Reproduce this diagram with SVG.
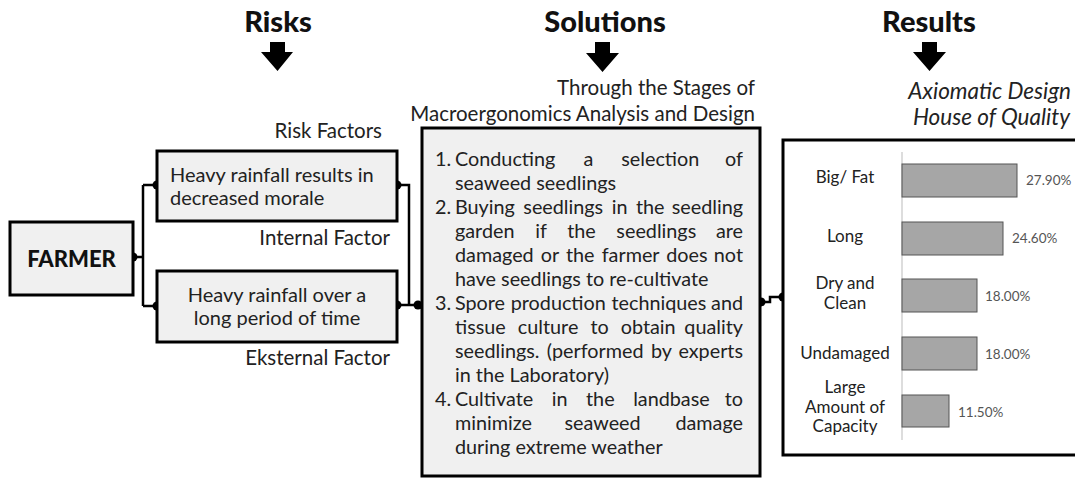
<svg xmlns="http://www.w3.org/2000/svg" width="1075" height="478" viewBox="0 0 1075 478">
  <defs>
    <style>
      .box { fill: #f0f0f0; stroke: #000; stroke-width: 3; }
      .panel { fill: #fff; stroke: #000; stroke-width: 3; }
      .wire { fill: none; stroke: #000; stroke-width: 2.5; }
      .dot { fill: #000; }
      .head { font-family: Lato, "Liberation Sans", sans-serif; font-weight: 900; font-size: 29px; fill: #111; text-anchor: middle; }
      .txt { font-family: Lato, "Liberation Sans", sans-serif; font-size: 20px; fill: #222; }
      .body { font-family: Lato, "Liberation Sans", sans-serif; font-size: 19.8px; fill: #222; }
      .end { text-anchor: end; }
      .cap { font-family: Lato, "Liberation Sans", sans-serif; font-size: 20.5px; fill: #222; text-anchor: end; }
      .ital { font-family: Lato, "Liberation Sans", sans-serif; font-size: 22.5px; font-style: italic; fill: #222; text-anchor: end; }
      .cat { font-family: Lato, "Liberation Sans", sans-serif; font-size: 17px; fill: #222; text-anchor: middle; }
      .pct { font-family: Lato, "Liberation Sans", sans-serif; font-size: 13.5px; fill: #555; }
      .bar { fill: #a6a6a6; stroke: #555; stroke-width: 1; }
      .arrow { fill: #000; }
    </style>
  </defs>

  <!-- column headings with down arrows -->
  <g id="heading-risks">
    <text class="head" x="278" y="32">Risks</text>
    <path class="arrow" d="M270,42 H285 V52 H293 L277.5,71 L261,52 H270 Z"/>
  </g>
  <g id="heading-solutions">
    <text class="head" x="605" y="32">Solutions</text>
    <path class="arrow" d="M595,42 H610 V53 H619 L602.5,72 L586,53 H595 Z"/>
  </g>
  <g id="heading-results">
    <text class="head" x="929" y="32">Results</text>
    <path class="arrow" d="M922,42 H937 V52 H946 L929.5,71 L913,52 H922 Z"/>
  </g>

  <!-- connectors -->
  <g id="connectors">
    <path class="wire" d="M133,257 H143 M143,185 V306 M143,185 H157 M143,306 H157"/>
    <path class="wire" d="M397,185 H409 V305"/>
    <path class="wire" d="M397,305 H420"/>
    <path class="wire" d="M760,302 H770 V297 H783"/>
    <circle class="dot" cx="133" cy="257" r="4.5"/>
    <circle class="dot" cx="157" cy="185" r="4.5"/>
    <circle class="dot" cx="157" cy="306" r="4.5"/>
    <circle class="dot" cx="397" cy="185" r="4.5"/>
    <circle class="dot" cx="397" cy="305" r="4.5"/>
    <circle class="dot" cx="418" cy="305" r="4.5"/>
    <circle class="dot" cx="761" cy="302" r="4.5"/>
    <circle class="dot" cx="783" cy="297" r="4.5"/>
  </g>

  <!-- farmer -->
  <g id="farmer">
    <rect class="box" x="10" y="222" width="123" height="73"/>
    <text x="71.5" y="267" text-anchor="middle" style="font-family: Lato, 'Liberation Sans', sans-serif; font-weight: 900; font-size: 22px; fill: #111;">FARMER</text>
  </g>

  <!-- risk factors -->
  <text class="cap" x="382" y="138">Risk Factors</text>
  <g id="internal-factor">
    <rect class="box" x="157" y="151" width="240" height="70"/>
    <text class="txt" x="170" y="182">Heavy rainfall results in</text>
    <text class="txt" x="170" y="205">decreased morale</text>
    <text class="cap" x="390" y="245">Internal Factor</text>
  </g>
  <g id="external-factor">
    <rect class="box" x="157" y="271" width="240" height="71"/>
    <text class="txt" x="277" y="302" text-anchor="middle">Heavy rainfall over a</text>
    <text class="txt" x="277" y="325" text-anchor="middle">long period of time</text>
    <text class="cap" x="390" y="365">Eksternal Factor</text>
  </g>

  <!-- solutions: justified list, last word of each full line pinned to the right margin -->
  <text class="cap" x="755" y="95">Through the Stages of</text>
  <text class="cap" x="755" y="121">Macroergonomics Analysis and Design</text>
  <g id="solutions">
    <rect class="box" x="422" y="128" width="338" height="348"/>
    <g class="body">
      <text x="435" y="166">1.</text>
      <text x="455" y="166" word-spacing="23">Conducting a selection</text>
      <text class="end" x="743" y="166">of</text>
      <text x="455" y="190">seaweed seedlings</text>

      <text x="435" y="214">2.</text>
      <text x="455" y="214" word-spacing="3.4">Buying seedlings in the</text>
      <text class="end" x="743" y="214">seedling</text>
      <text x="455" y="238" word-spacing="15.6">garden if the seedlings</text>
      <text class="end" x="743" y="238">are</text>
      <text x="455" y="262" word-spacing="2.1">damaged or the farmer does</text>
      <text class="end" x="743" y="262">not</text>
      <text x="455" y="286">have seedlings to re-cultivate</text>

      <text x="435" y="310">3.</text>
      <text x="455" y="310" word-spacing="0.6">Spore production techniques</text>
      <text class="end" x="743" y="310">and</text>
      <text x="455" y="334" word-spacing="7">tissue culture to obtain</text>
      <text class="end" x="743" y="334">quality</text>
      <text x="455" y="358" word-spacing="2.3">seedlings. (performed by</text>
      <text class="end" x="743" y="358">experts</text>
      <text x="455" y="382">in the Laboratory)</text>

      <text x="435" y="406">4.</text>
      <text x="455" y="406" word-spacing="13.5">Cultivate in the landbase</text>
      <text class="end" x="743" y="406">to</text>
      <text x="455" y="430" word-spacing="27.4">minimize seaweed</text>
      <text class="end" x="743" y="430">damage</text>
      <text x="455" y="454">during extreme weather</text>
    </g>
  </g>

  <!-- results -->
  <text class="ital" x="1071" y="99">Axiomatic Design</text>
  <text class="ital" x="1070" y="125">House of Quality</text>
  <g id="results">
    <rect class="panel" x="783" y="140" width="310" height="315"/>
    <line x1="902" y1="152" x2="902" y2="440" stroke="#bbb" stroke-width="1"/>

    <rect class="bar" x="902" y="164" width="115" height="33"/>
    <rect class="bar" x="902" y="222" width="101" height="33"/>
    <rect class="bar" x="902" y="279" width="75" height="33"/>
    <rect class="bar" x="902" y="337" width="75" height="33"/>
    <rect class="bar" x="902" y="395" width="47" height="32"/>

    <text class="pct" x="1026" y="185">27.90%</text>
    <text class="pct" x="1012" y="243">24.60%</text>
    <text class="pct" x="985" y="301">18.00%</text>
    <text class="pct" x="985" y="359">18.00%</text>
    <text class="pct" x="958" y="417">11.50%</text>

    <text class="cat" x="845" y="183">Big/ Fat</text>
    <text class="cat" x="845" y="242">Long</text>
    <text class="cat" x="845" y="289">Dry and</text>
    <text class="cat" x="845" y="309">Clean</text>
    <text class="cat" x="845" y="359">Undamaged</text>
    <text class="cat" x="845" y="393">Large</text>
    <text class="cat" x="845" y="413">Amount of</text>
    <text class="cat" x="845" y="432">Capacity</text>
  </g>
</svg>
